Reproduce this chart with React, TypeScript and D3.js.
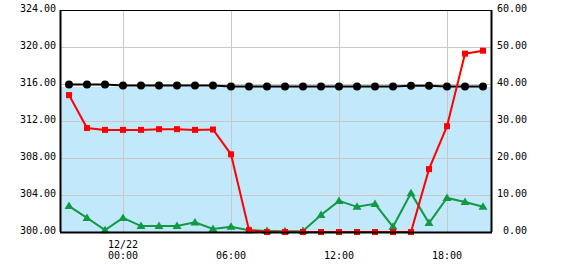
import React from "react";
import * as d3 from "d3";

const times = [
  "12/21 21:00", "12/21 22:00", "12/21 23:00", "12/22 00:00", "12/22 01:00", "12/22 02:00",
  "12/22 03:00", "12/22 04:00", "12/22 05:00", "12/22 06:00", "12/22 07:00", "12/22 08:00",
  "12/22 09:00", "12/22 10:00", "12/22 11:00", "12/22 12:00", "12/22 13:00", "12/22 14:00",
  "12/22 15:00", "12/22 16:00", "12/22 17:00", "12/22 18:00", "12/22 19:00", "12/22 20:00",
];
const blackLevel = [
  315.95, 315.95, 315.95, 315.85, 315.85, 315.85, 315.85, 315.85, 315.85, 315.72, 315.72, 315.72,
  315.72, 315.72, 315.72, 315.72, 315.72, 315.72, 315.72, 315.8, 315.8, 315.72, 315.72, 315.72,
];
const redSeries = [
  37.0, 28.1, 27.6, 27.6, 27.6, 27.8, 27.8, 27.6, 27.7, 21.0, 0.5, 0,
  0, 0, 0, 0, 0, 0, 0, 0, 17.0, 28.6, 48.2, 49.0,
];
const greenSeries = [
  7.0, 3.8, 0.5, 3.8, 1.6, 1.6, 1.6, 2.6, 0.8, 1.4, 0.5, 0.3,
  0.2, 0.3, 4.6, 8.4, 6.8, 7.6, 1.4, 10.5, 2.4, 9.2, 8.1, 6.8,
];
const fillLevel = 315.68;
const leftTicks = [300, 304, 308, 312, 316, 320, 324];
const rightTicks = [0, 10, 20, 30, 40, 50, 60];
const xTickIndices = [3, 9, 15, 21];
const xTickLabels = [["12/22", "00:00"], ["06:00"], ["12:00"], ["18:00"]];

export default function App() {
  const W = 570, H = 270;
  const L = 60, R = 492, T = 10, B = 232;
  const x = d3.scaleLinear().domain([-0.5, times.length - 0.5]).range([L, R]);
  const yL = d3.scaleLinear().domain([300, 324]).range([B, T]);
  const yR = d3.scaleLinear().domain([0, 60]).range([B, T]);
  const font = "'DejaVu Sans Mono', monospace";

  const lineBlack = d3.line<number>().x((_, i) => x(i)).y((d) => yL(d))(blackLevel) || "";
  const lineRed = d3.line<number>().x((_, i) => x(i)).y((d) => yR(d))(redSeries) || "";
  const lineGreen = d3.line<number>().x((_, i) => x(i)).y((d) => yR(d))(greenSeries) || "";

  const tri = (cx: number, cy: number) => `M${cx},${cy - 4.5}L${cx + 4.5},${cy + 3}L${cx - 4.5},${cy + 3}Z`;

  return (
    <svg width={W} height={H} style={{ position: "absolute", left: 0, top: 0, background: "#fff" }}>
      <rect x={L} y={yL(fillLevel)} width={R - L} height={B - yL(fillLevel)} fill="#c2e8fb" />
      {leftTicks.map((t) => (
        <line key={"gh" + t} x1={L} x2={R} y1={Math.round(yL(t)) + 0.5} y2={Math.round(yL(t)) + 0.5} stroke="#c8c8c8" strokeWidth={1} />
      ))}
      {xTickIndices.map((i) => (
        <line key={"gv" + i} x1={Math.round(x(i)) + 0.5} x2={Math.round(x(i)) + 0.5} y1={T} y2={B} stroke="#c8c8c8" strokeWidth={1} />
      ))}
      <path d={lineBlack} fill="none" stroke="#000" strokeWidth={2} />
      {blackLevel.map((d, i) => (
        <circle key={"b" + i} cx={x(i)} cy={yL(d)} r={4} fill="#000" />
      ))}
      <path d={lineGreen} fill="none" stroke="#119944" strokeWidth={2} />
      {greenSeries.map((d, i) => (
        <path key={"g" + i} d={tri(x(i), yR(d))} fill="#119944" />
      ))}
      <path d={lineRed} fill="none" stroke="#ff0000" strokeWidth={2} />
      {redSeries.map((d, i) => (
        <rect key={"r" + i} x={x(i) - 3} y={yR(d) - 3} width={6} height={6} fill="#ff0000" />
      ))}
      <rect x={L + 0.5} y={T + 0.5} width={R - L - 1} height={B - T} fill="none" stroke="#000" strokeWidth={1} />
      <line x1={L} x2={R} y1={B + 0.5} y2={B + 0.5} stroke="#000" strokeWidth={2} />
      <line x1={L + 0.5} x2={L + 0.5} y1={T} y2={B} stroke="#000" strokeWidth={2} />
      <line x1={R - 0.5} x2={R - 0.5} y1={T} y2={B} stroke="#000" strokeWidth={2} />
      {leftTicks.map((t) => (
        <text key={"lt" + t} x={56} y={yL(t) - 1.5} fontSize={10} fontFamily={font} textAnchor="end" dominantBaseline="middle" fill="#000">
          {t.toFixed(2)}
        </text>
      ))}
      {rightTicks.map((t) => (
        <text key={"rt" + t} x={527} y={yR(t) - 1.5} fontSize={10} fontFamily={font} textAnchor="end" dominantBaseline="middle" fill="#000">
          {t.toFixed(2)}
        </text>
      ))}
      {xTickIndices.map((idx, k) => {
        const lines = xTickLabels[k];
        return lines.map((s, j) => (
          <text key={"xt" + idx + j} x={x(idx)} y={lines.length === 2 ? 248 + j * 10.5 : 258.5} fontSize={10} fontFamily={font} textAnchor="middle" fill="#000">
            {s}
          </text>
        ));
      })}
    </svg>
  );
}
